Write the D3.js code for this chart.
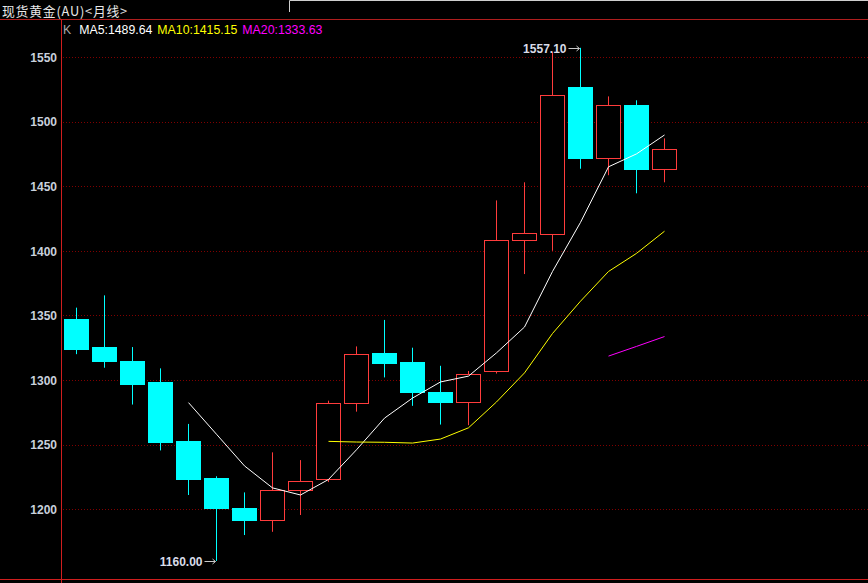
<!DOCTYPE html>
<html><head><meta charset="utf-8">
<script src="https://cdn.jsdelivr.net/npm/d3@7"></script>
<style>
html,body{margin:0;padding:0;background:#000;overflow:hidden}
svg{display:block}
</style></head>
<body>
<svg id="chart" width="868" height="583"></svg>
<script>
const titleText = "现货黄金(AU)<月线>";
const opens  = [1347,1325.5,1314.5,1298.5,1252.5,1224,1201,1192,1214.5,1223,1282,1321,1314,1291,1283,1307,1408.5,1413,1526.5,1472,1512.5,1463.5];
const highs  = [1356,1365.5,1325.5,1309,1266,1225.5,1213,1244,1238,1284,1326,1346.5,1325,1311,1307,1439,1453,1554,1557.1,1519.5,1516.5,1487];
const lows   = [1320,1309.5,1281,1245.5,1211,1160,1180,1182.5,1195.5,1221,1275.5,1302,1280,1265.5,1265,1305,1382,1400,1463.5,1458.5,1444.5,1453];
const closes = [1324,1315,1297,1252,1223,1201,1192,1215,1222,1282,1320.5,1313,1291,1283,1305,1408.5,1413.5,1520.5,1472,1513,1463.5,1479];
const ma5Start = 4;
const ma5  = [1282.5,1258,1233.5,1216.5,1211,1223,1246,1270.5,1286,1298.5,1303,1321,1341,1384,1422,1465,1475,1489.64];
const ma10Start = 9;
const ma10 = [1252.5,1252,1251.8,1251.2,1254.3,1263,1283,1305.5,1336,1361,1384,1398,1415.15];
const ma20Start = 19;
const ma20 = [1318.5,1326,1333.63];
const yTicks = [1200,1250,1300,1350,1400,1450,1500,1550];
const legendItems = [["K","#a8a8a8"],["MA5:1489.64","#ffffff"],["MA10:1415.15","#ffff00"],["MA20:1333.63","#ff00ff"]];
const maxLabel = "1557.10", minLabel = "1160.00";

const svg = d3.select("#chart");
const W = 868, H = 583;
const axisX = 61, topY = 19, botY = 579;
const y = d3.scaleLinear().domain([1300,1550]).range([380,57]);
const x = d3.scaleLinear().domain([0,1]).range([76,104]); // candle centre column
const UP = "#ff3c3c", DOWN = "#00ffff";

svg.append("rect").attr("width",W).attr("height",H).attr("fill","#000");

// title bar
svg.append("path").attr("d",`M289.5,12 V0.5 H${W}`).attr("stroke","#cfcfcf").attr("fill","none");
svg.append("text").attr("x",2).attr("y",15.5).attr("fill","#e8e8e8")
  .attr("font-family","'Noto Sans CJK SC',sans-serif").attr("font-size",12.8)
  .attr("letter-spacing",0.8).text(titleText);
svg.append("line").attr("x1",0).attr("x2",W).attr("y1",topY+0.5).attr("y2",topY+0.5).attr("stroke","#b01e1e");

// grid
const g = svg.append("g");
g.selectAll("line.grid").data(yTicks).join("line").attr("class","grid")
  .attr("x1",axisX+2).attr("x2",W).attr("y1",d=>Math.round(y(d))+0.5).attr("y2",d=>Math.round(y(d))+0.5)
  .attr("stroke","#800000").attr("stroke-dasharray","1,2");

// y axis via d3 axis
const yAxis = d3.axisLeft(y).tickValues(yTicks).tickSize(0).tickPadding(4).tickFormat(d3.format("d"));
const ax = svg.append("g").attr("transform",`translate(${axisX},0)`).call(yAxis);
ax.select(".domain").remove();
ax.selectAll("text").attr("fill","#c8d0dc").attr("font-family","'Liberation Sans',Arial,sans-serif")
  .attr("font-size",12).attr("font-weight","bold").attr("dy","0.35em");

svg.append("line").attr("x1",axisX+0.5).attr("x2",axisX+0.5).attr("y1",topY).attr("y2",H).attr("stroke","#d01e1e");
svg.append("line").attr("x1",0).attr("x2",W).attr("y1",botY+0.5).attr("y2",botY+0.5).attr("stroke","#d01e1e");

// legend
let lx = 63;
legendItems.forEach(([t,c],i)=>{
  const tx = svg.append("text").attr("x",lx).attr("y",34).attr("fill",c)
    .attr("font-family","'Liberation Sans',Arial,sans-serif").attr("font-size",12.3).text(t);
  lx += tx.node().getComputedTextLength() + (i===0?8:5);
});

// candles
const data = opens.map((o,i)=>({i,o,h:highs[i],l:lows[i],c:closes[i]}));
const cg = svg.append("g");
data.forEach(d=>{
  const cx = x(d.i);
  const up = d.c >= d.o;
  const col = up ? UP : DOWN;
  const top = y(Math.max(d.o,d.c)), bot = y(Math.min(d.o,d.c));
  cg.append("line").attr("x1",cx+0.5).attr("x2",cx+0.5).attr("y1",y(d.h)).attr("y2",y(d.l)).attr("stroke",col);
  if(up){
    cg.append("rect").attr("x",cx-12+0.5).attr("y",Math.round(top)+0.5).attr("width",24)
      .attr("height",Math.max(1,Math.round(bot)-Math.round(top))).attr("fill","#000").attr("stroke",col);
  } else {
    cg.append("rect").attr("x",cx-12).attr("y",Math.round(top)).attr("width",25)
      .attr("height",Math.max(1,Math.round(bot)-Math.round(top)+1)).attr("fill",col);
  }
});

// moving averages
const line = d3.line().x(d=>x(d[0])+0.5).y(d=>y(d[1]));
[[ma5,ma5Start,"#ffffff"],[ma10,ma10Start,"#ffff00"],[ma20,ma20Start,"#ff00ff"]].forEach(([arr,s,c])=>{
  svg.append("path").attr("d",line(arr.map((v,k)=>[s+k,v]))).attr("fill","none").attr("stroke",c).attr("stroke-width",1);
});

// max / min annotations
function annot(idx, val, label){
  const cx = x(idx)+0.5, yy = Math.round(y(val))+0.5;
  svg.append("text").attr("x",cx-14).attr("y",yy).attr("dy","0.35em").attr("text-anchor","end")
    .attr("fill","#d8dce8").attr("font-family","'Liberation Sans',Arial,sans-serif")
    .attr("font-size",12).attr("font-weight","bold").text(label);
  svg.append("path").attr("d",`M${cx-12},${yy} H${cx-1} M${cx-4},${yy-2.5} L${cx-1},${yy} L${cx-4},${yy+2.5}`)
    .attr("stroke","#c8c8c8").attr("fill","none");
}
const hiIdx = d3.maxIndex(highs), loIdx = d3.minIndex(lows);
annot(hiIdx, highs[hiIdx], maxLabel);
annot(loIdx, lows[loIdx], minLabel);
</script>
</body></html>
